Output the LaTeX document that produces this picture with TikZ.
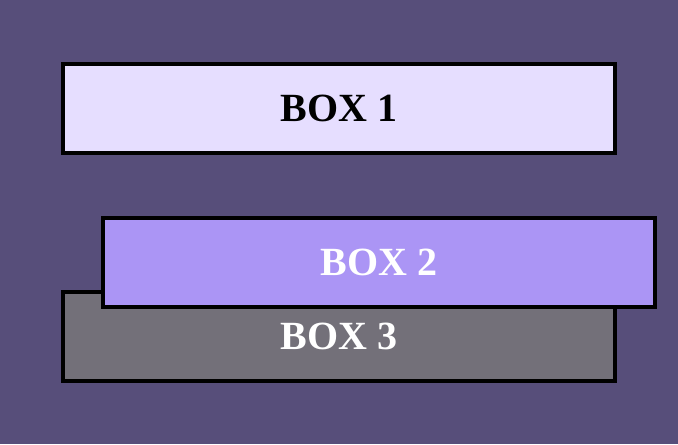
\documentclass[tikz,border=0pt]{standalone}
\usepackage{fontspec}
\setmainfont{Liberation Serif}
\definecolor{bgpurple}{RGB}{87,78,122}
\definecolor{boxlight}{RGB}{230,222,255}
\definecolor{boxmid}{RGB}{171,149,245}
\definecolor{boxgray}{RGB}{115,112,121}
\begin{document}
\begin{tikzpicture}[x=0.75pt,y=0.75pt,yscale=-1,xscale=1,
  boxnode/.style={draw=black,line width=3pt,minimum width=552*0.75pt,minimum height=89*0.75pt,inner sep=0pt,font=\fontsize{30}{36}\selectfont\bfseries}]
%set diagram background
\fill [bgpurple] (0,0) rectangle (678,444);

% Box 3
\node [boxnode,fill=boxgray,text=white] (box3) at (339,336.5) {BOX 3};
% Box 2
\node [boxnode,fill=boxmid,text=white] (box2) at (379,262) {BOX 2};
% Box 1
\node [boxnode,fill=boxlight,text=black] (box1) at (339,108.5) {BOX 1};

\end{tikzpicture}
\end{document}
